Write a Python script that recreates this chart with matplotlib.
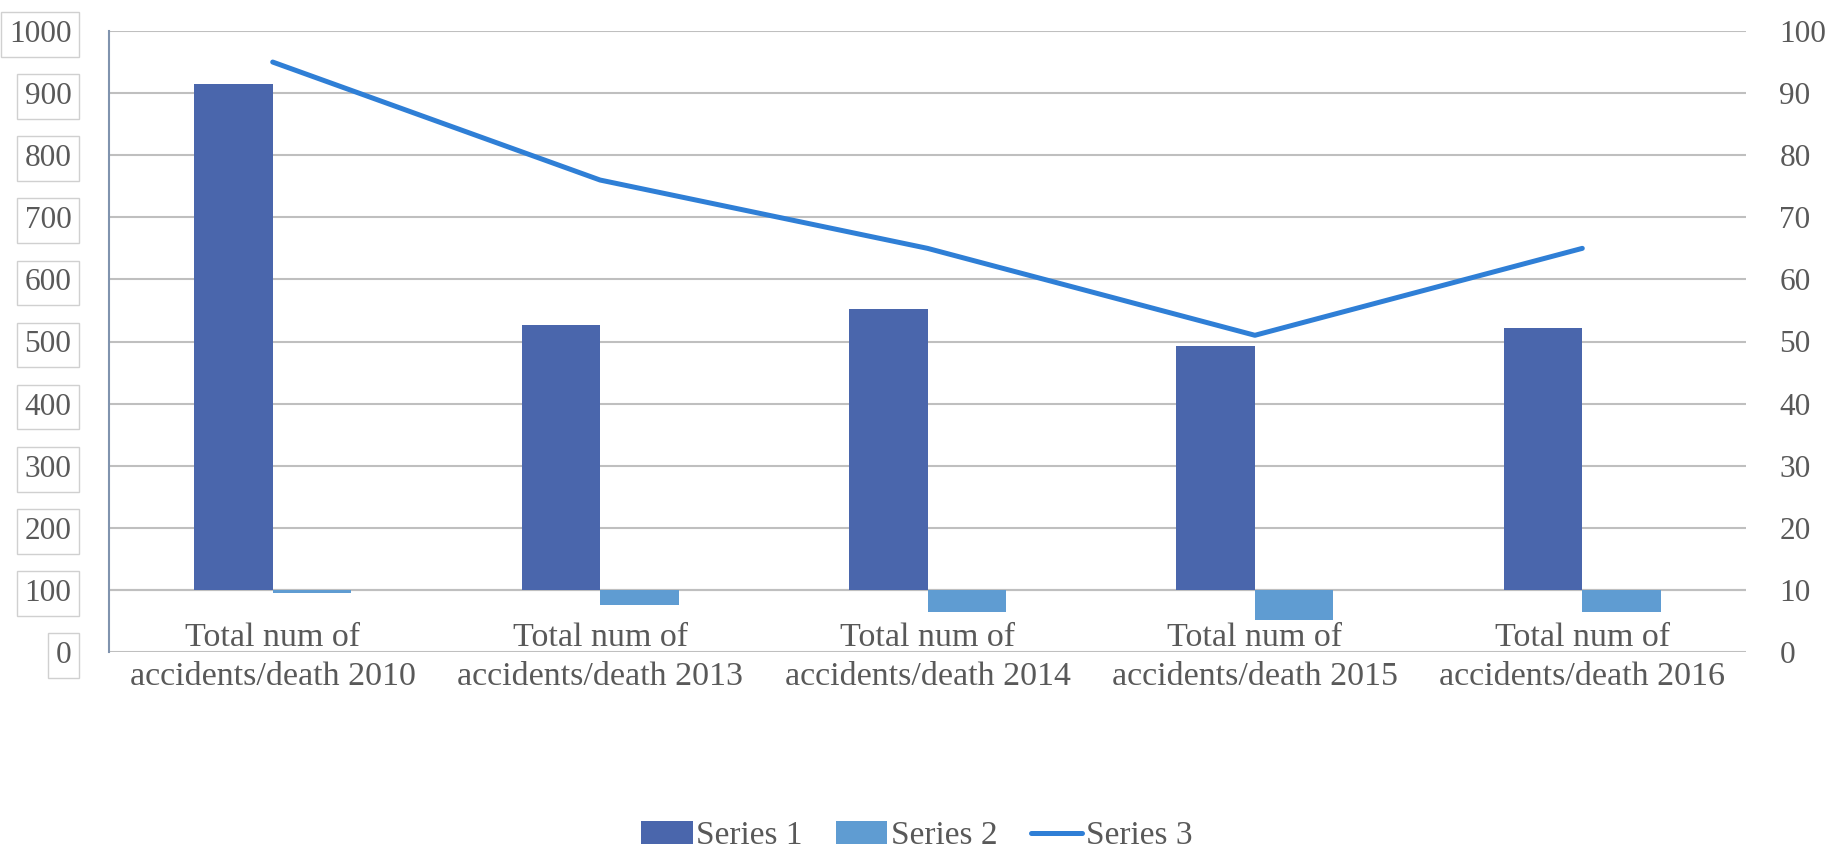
import matplotlib
matplotlib.use("Agg")
import matplotlib.pyplot as plt
import numpy as np
from matplotlib.patches import Patch
from matplotlib.lines import Line2D

categories = ["Total num of\naccidents/death 2010", "Total num of\naccidents/death 2013",
              "Total num of\naccidents/death 2014", "Total num of\naccidents/death 2015",
              "Total num of\naccidents/death 2016"]
series1 = [914, 526, 552, 493, 522]
series2 = [95, 76, 65, 51, 65]
series3 = [95, 76, 65, 51, 65]
left_ticks = [0, 100, 200, 300, 400, 500, 600, 700, 800, 900, 1000]
right_ticks = [0, 10, 20, 30, 40, 50, 60, 70, 80, 90, 100]
axis_cross = 100

c1 = "#4A66AC"
c2 = "#5F9CD2"
c3 = "#2F7FD6"
txt = "#595959"
grid = "#BFBFBF"

plt.rcParams['font.family'] = ['Liberation Serif', 'DejaVu Serif']

fig = plt.figure(figsize=(18.33, 8.49), dpi=100)
ax = fig.add_axes([109/1833, 1-652/849, (1746-109)/1833, (652-31)/849])
x = np.arange(len(categories))
w = 0.24
ax.bar(x - w/2, np.array(series1) - axis_cross, bottom=axis_cross, width=w, color=c1, zorder=3)
ax.bar(x + w/2, np.array(series2) - axis_cross, bottom=axis_cross, width=w, color=c2, zorder=3)
ax.axhline(axis_cross, color=grid, lw=1.5, zorder=2)
ax.set_xlim(-0.5, len(categories) - 0.5)
ax.set_ylim(0, 1000)
ax.set_yticks(left_ticks)
ax.set_yticklabels([str(t) for t in left_ticks])
ax.yaxis.grid(True, color=grid, lw=1.5, zorder=0)
ax.set_axisbelow(True)
ax.set_xticks([])
for s in ["top", "right", "bottom"]:
    ax.spines[s].set_visible(False)
ax.spines["left"].set_color("#8093AE")
ax.spines["left"].set_linewidth(1.5)
ax.tick_params(axis='y', length=0, pad=27, labelsize=22.5, labelcolor=txt)
for lab in ax.get_yticklabels():
    lab.set_bbox(dict(facecolor='none', edgecolor='#D0D0D0', boxstyle='square,pad=0.25', lw=1))

for i, c in enumerate(categories):
    ax.annotate(c, xy=(i, axis_cross), xytext=(0, -33), textcoords='offset pixels',
                ha='center', va='top', fontsize=24.5, color=txt, linespacing=1.34,
                annotation_clip=False)

ax2 = ax.twinx()
ax2.plot(x, series3, color=c3, lw=3.6, solid_capstyle='round', zorder=4)
ax2.set_ylim(0, 100)
ax2.set_yticks(right_ticks)
for s in ax2.spines.values():
    s.set_visible(False)
ax2.tick_params(axis='y', length=0, pad=24, labelsize=22.5, labelcolor=txt)

handles = [Patch(facecolor=c1, edgecolor='none'), Patch(facecolor=c2, edgecolor='none'),
           Line2D([0], [0], color=c3, lw=3.6, solid_capstyle='round')]
fig.legend(handles, ["Series 1", "Series 2", "Series 3"], loc='center', ncol=3,
           bbox_to_anchor=(0.5, 1-836/849), frameon=False, fontsize=24,
           handlelength=1.55, handleheight=0.7, handletextpad=0.1, columnspacing=1.0,
           labelcolor=txt)

fig.savefig("out.png", dpi=100, facecolor="white")
